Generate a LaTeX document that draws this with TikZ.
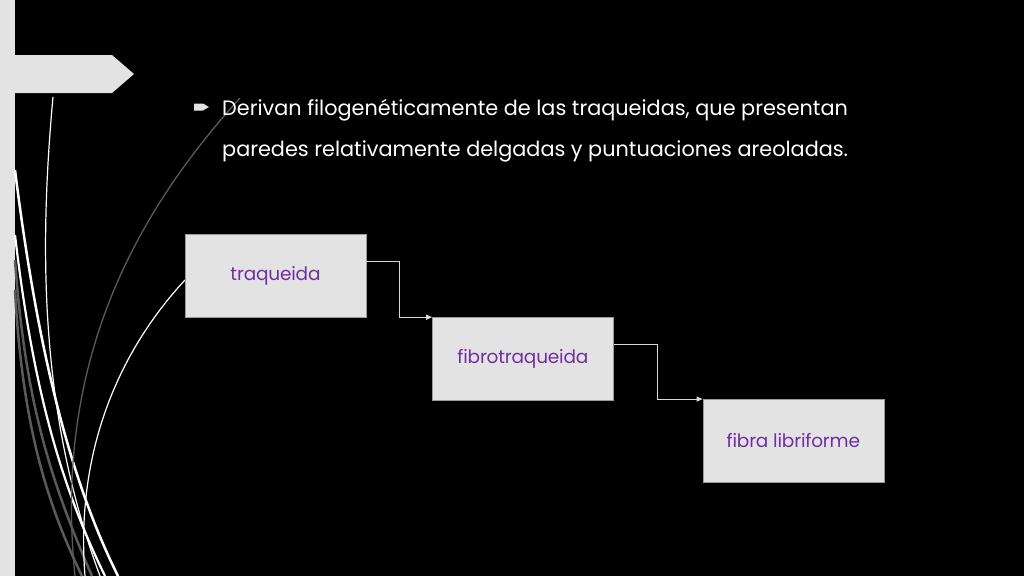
\documentclass[tikz,border=0pt]{standalone}
\usepackage{fontspec}
\setmainfont{Poppins}
\usetikzlibrary{positioning,arrows.meta,calc}

\definecolor{panel}{HTML}{E3E3E3}
\definecolor{edge}{HTML}{9A9A9A}
\definecolor{violet}{HTML}{7030A0}
\definecolor{wire}{HTML}{D9D9D9}
\definecolor{stem}{HTML}{5A5A5A}

\begin{document}
\begin{tikzpicture}[x=1pt,y=-1pt,
    cell/.style={fill=panel,draw=edge,thin,minimum width=181pt,minimum height=83pt,
                 inner sep=0pt,text=violet,font=\fontsize{18.5}{22}\selectfont\addfontfeature{LetterSpace=-1}},
    link/.style={draw=wire,line width=1pt,-{Triangle[length=6pt,width=5pt]}},
    line/.style={font=\fontsize{20.8}{25}\selectfont,text=white,anchor=base west,inner sep=0pt}]
    \useasboundingbox (0,0) rectangle (1024,576);
    \fill[black] (0,0) rectangle (1024,576);

    % side bar and banner
    \fill[panel] (0,0) rectangle (15,576);
    \fill[panel] (15,55) -- (112,55) -- (134,74) -- (112,93) -- (15,93) -- cycle;

    % strands
    \draw[white,line width=1.2pt] (53,97) .. controls (38,260) and (42,420) .. (100,576);
    \draw[white,line width=2.5pt] (15,170) .. controls (35,330) and (65,470) .. (118,576);
    \draw[white,line width=2.2pt] (15,235) .. controls (32,380) and (58,480) .. (105,576);
    \draw[stem,line width=2.5pt] (15,260) .. controls (25,400) and (50,480) .. (92,576);
    \draw[stem,line width=2.5pt] (15,290) .. controls (22,420) and (45,500) .. (82,576);
    \draw[stem,line width=1.3pt] (240,98) .. controls (120,230) and (55,380) .. (75,576);
    \draw[white,line width=1.2pt] (185,280) .. controls (120,350) and (75,450) .. (85,576);

    % bullet text
    \node[line] (txta) at (222,115) {Derivan filogenéticamente de las traqueidas, que presentan};
    \node[line] (txtb) at ([yshift=-41pt]txta.base west) {paredes relativamente delgadas y puntuaciones areoladas.};
    \coordinate (bul) at (194,107);
    \fill[panel] ($(bul)+(0,-3.5)$) -- ++(9,0) -- ++(6,3.5) -- ++(-6,3.5) -- ++(-9,0) -- cycle;

    % chain
    \node[cell] (traq) at (275.5,275.5) {traqueida};
    \node[cell] (fibro) [below right=0pt and 66pt of traq] {fibrotraqueida};
    \node[cell] (libri) [below right=-1.5pt and 89pt of fibro] {fibra libriforme};

    \draw[link] ($(traq.north east)!.33!(traq.south east)$) -- ++(33,0) |- (fibro.north west);
    \draw[link] ($(fibro.north east)!.33!(fibro.south east)$) -- ++(44,0) |- (libri.north west);
\end{tikzpicture}
\end{document}
